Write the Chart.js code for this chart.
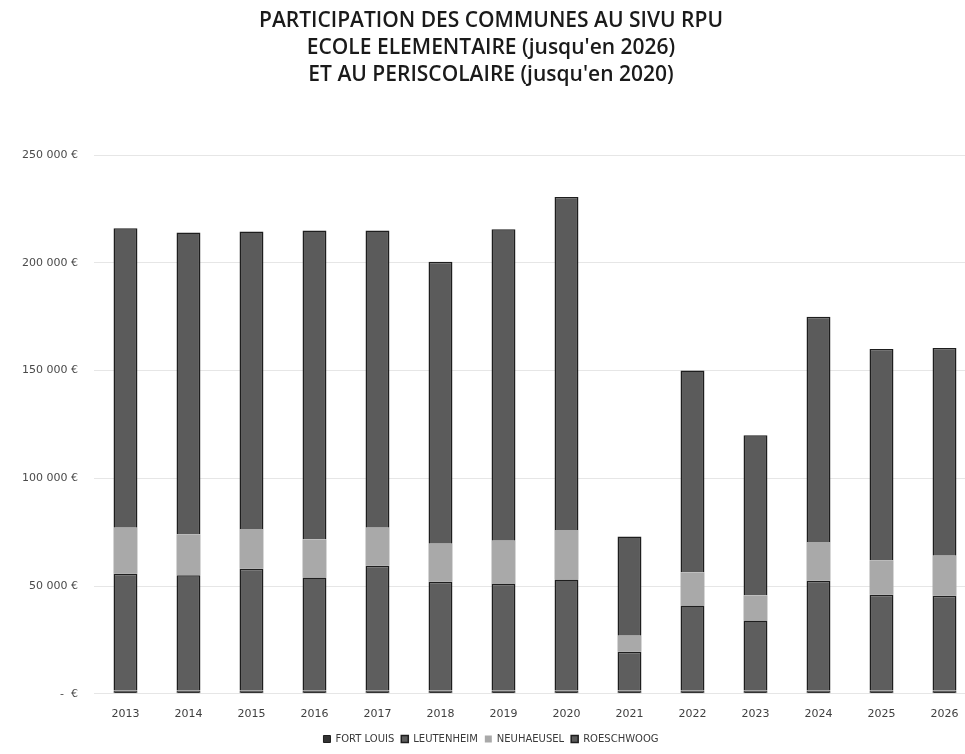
<!DOCTYPE html>
<html lang="fr">
<head>
    <meta charset="UTF-8">
    <title>Participation des communes au SIVU RPU</title>
    <style>
        html, body {
            margin: 0;
            padding: 0;
            background: #fff;
            overflow: hidden;
        }
        #wrap {
            width: 985px;
            height: 754px;
        }
    </style>
</head>
<body>
    <div id="wrap">
        <canvas id="sivuChart" width="985" height="754"></canvas>
    </div>

    <script src="https://cdn.jsdelivr.net/npm/chart.js"></script>
    <script>
        // years on the x axis
        const years = ['2013', '2014', '2015', '2016', '2017', '2018', '2019',
                       '2020', '2021', '2022', '2023', '2024', '2025', '2026'];

        // contributions per commune, in euros
        const fortLouis  = [1500, 1500, 1500, 1500, 1500, 1500, 1500, 1500, 1500, 1500, 1500, 1500, 1500, 1500];
        const leutenheim = [54200, 53500, 56500, 52500, 57900, 50500, 49500, 51500, 18000, 39500, 32500, 50900, 44500, 44000];
        const neuhaeusel = [21300, 19000, 18500, 17600, 17600, 17600, 20000, 23000, 7400, 15300, 11600, 18000, 16000, 18500];
        const roeschwoog = [139000, 140000, 138000, 143400, 138000, 130900, 144500, 154500, 46100, 93700, 74400, 104600, 98000, 96500];

        const titleLines = [
            'PARTICIPATION DES COMMUNES AU SIVU RPU',
            'ECOLE ELEMENTAIRE (jusqu\'en 2026)',
            'ET AU PERISCOLAIRE (jusqu\'en 2020)'
        ];

        function euro(v) {
            if (v === 0) return '-  €';
            return v.toString().replace(/\B(?=(\d{3})+(?!\d))/g, ' ') + ' €';
        }

        const ctx = document.getElementById('sivuChart').getContext('2d');
        new Chart(ctx, {
            type: 'bar',
            data: {
                labels: years,
                datasets: [
                    { label: 'FORT LOUIS', data: fortLouis, backgroundColor: '#333333', borderColor: '#1e1e1e', borderWidth: 1 },
                    { label: 'LEUTENHEIM', data: leutenheim, backgroundColor: '#5e5e5e', borderColor: '#1e1e1e', borderWidth: 1.5 },
                    { label: 'NEUHAEUSEL', data: neuhaeusel, backgroundColor: '#a9a9a9', borderColor: '#a9a9a9', borderWidth: 0 },
                    { label: 'ROESCHWOOG', data: roeschwoog, backgroundColor: '#5b5b5b', borderColor: '#1e1e1e', borderWidth: 1.5 }
                ]
            },
            options: {
                responsive: false,
                animation: false,
                layout: { padding: { left: 6, right: 9, top: 8, bottom: 0 } },
                datasets: {
                    bar: { categoryPercentage: 0.76, barPercentage: 0.5 }
                },
                plugins: {
                    title: {
                        display: true,
                        text: titleLines,
                        color: '#1a1a1a',
                        font: { family: 'Open Sans', size: 21, weight: '600', lineHeight: 1.27 },
                        padding: { top: 0, bottom: 67 }
                    },
                    legend: {
                        position: 'bottom',
                        labels: {
                            boxWidth: 7,
                            boxHeight: 7,
                            color: '#3a3a3a',
                            padding: 7,
                            font: { family: 'DejaVu Sans', size: 10 }
                        }
                    },
                    tooltip: { enabled: false }
                },
                scales: {
                    x: {
                        stacked: true,
                        grid: { display: false },
                        border: { display: false },
                        ticks: { color: '#404040', font: { family: 'DejaVu Sans', size: 11 }, padding: 6 }
                    },
                    y: {
                        stacked: true,
                        min: 0,
                        max: 250000,
                        grid: { color: '#e6e6e6', lineWidth: 1, drawTicks: false },
                        border: { display: false },
                        ticks: {
                            stepSize: 50000,
                            padding: 16,
                            color: '#4a4a4a',
                            font: { family: 'DejaVu Sans', size: 11 },
                            callback: (v) => euro(v)
                        }
                    }
                }
            }
        });
    </script>
</body>
</html>
